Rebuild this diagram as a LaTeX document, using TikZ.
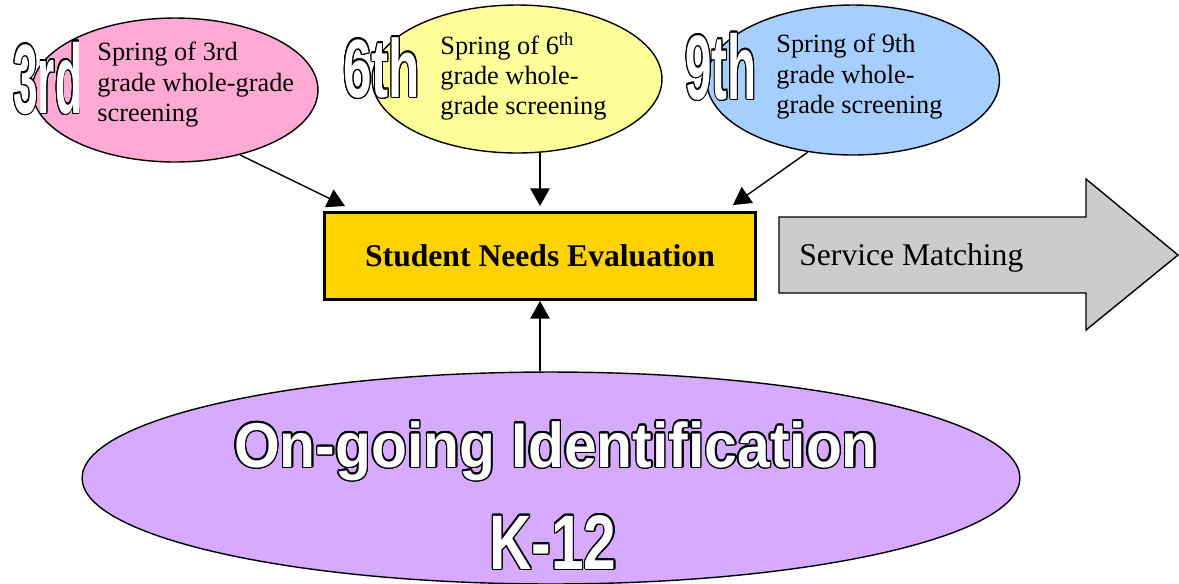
\documentclass[tikz,border=0pt]{standalone}
\usepackage{fontspec}
\setmainfont{Liberation Serif}
\newfontfamily\posterfont{Liberation Sans}
\usepackage{graphicx}
\usepackage{contour}
\contourlength{0.9pt}
\usetikzlibrary{shapes.geometric,arrows.meta,calc}

\definecolor{pinkfill}{RGB}{255,170,212}
\definecolor{yellowfill}{RGB}{255,255,153}
\definecolor{bluefill}{RGB}{166,206,255}
\definecolor{purplefill}{RGB}{213,170,255}
\definecolor{goldfill}{RGB}{255,210,0}
\definecolor{grayfill}{RGB}{204,204,204}

% white letters with a black rim, squeezed sideways
\newcommand{\hollow}[2]{\scalebox{#1}[1]{\textcolor{white}{\contour{black}{#2}}}}

\begin{document}
\begin{tikzpicture}
[x=0.02cm,y=-0.02cm,%
  bubble/.style={ellipse,draw,line width=0.8pt,inner sep=0pt},%
  blurb/.style={anchor=north west,inner sep=0pt,align=left,font=\fontsize{15}{17.2}\selectfont},%
  badge/.style={inner sep=0pt,font=\posterfont\bfseries},%
  arr/.style={-{Triangle[length=10pt,width=11pt]},line width=0.8pt}]
\useasboundingbox (0,0) rectangle (1179,583);
% screening bubbles
\node[bubble,fill=pinkfill,minimum width=5.72cm,minimum height=2.88cm] (third) at (175,90) {};
\node[bubble,fill=yellowfill,minimum width=5.8cm,minimum height=2.96cm] (sixth) at (517,79) {};
\node[bubble,fill=bluefill,minimum width=5.86cm,minimum height=3cm] (ninth) at (853,80) {};
\node[blurb] (thirdtxt) at (97,42) {Spring of 3rd\\grade whole-grade\\screening};
\node[blurb] (sixthtxt) at (440,32) {Spring of 6\textsuperscript{th}\\grade whole-\\grade screening};
\node[blurb] (ninthtxt) at (776,34) {Spring of 9th\\grade whole-\\grade screening};
\node[badge,anchor=base west] (thirdno) at (13,113) {\fontsize{56}{56}\selectfont\hollow{0.45}{3rd}};
\node[badge,anchor=base west] (sixthno) at (343,97) {\fontsize{47}{47}\selectfont\hollow{0.62}{6th}};
\node[badge,anchor=base west] (ninthno) at (685,99) {\fontsize{52}{52}\selectfont\hollow{0.52}{9th}};
% evaluation box
\node[draw,line width=1.7pt,fill=goldfill,minimum width=8.62cm,minimum height=1.74cm,
  font=\bfseries\fontsize{18}{20}\selectfont] (eval) at (540,256) {Student Needs Evaluation};
% service matching
\draw[fill=grayfill,line width=0.8pt] (779,217) -- (1086,217) -- (1086,179) -- (1178,255)
  -- (1086,330) -- (1086,293) -- (779,293) -- cycle;
\node[anchor=base west,inner sep=0pt,font=\fontsize{18}{20}\selectfont] (match) at (799,265) {Service Matching};
% on-going identification
\node[bubble,fill=purplefill,minimum width=18.76cm,minimum height=4.24cm] (ongoing) at (551,478) {};
\node[badge,anchor=base] (ongoingtxt) at (556,467) {\fontsize{36}{36}\selectfont\hollow{0.93}{On-going Identification}};
\node[badge,anchor=base] (k12) at (553,569) {\fontsize{44}{44}\selectfont\hollow{0.76}{K-12}};
% arrows into the box
\draw[arr] (third.-45) -- ($(eval.north west)+(22,-5)$);
\draw[arr] (sixth.-73 -| eval.north) -- ($(eval.north)+(0,-5)$);
\draw[arr] (ninth.-122) -- ($(eval.north east)+(-24,-6)$);
\draw[arr] (ongoing.north -| eval.south) -- (eval.south);
\end{tikzpicture}
\end{document}
